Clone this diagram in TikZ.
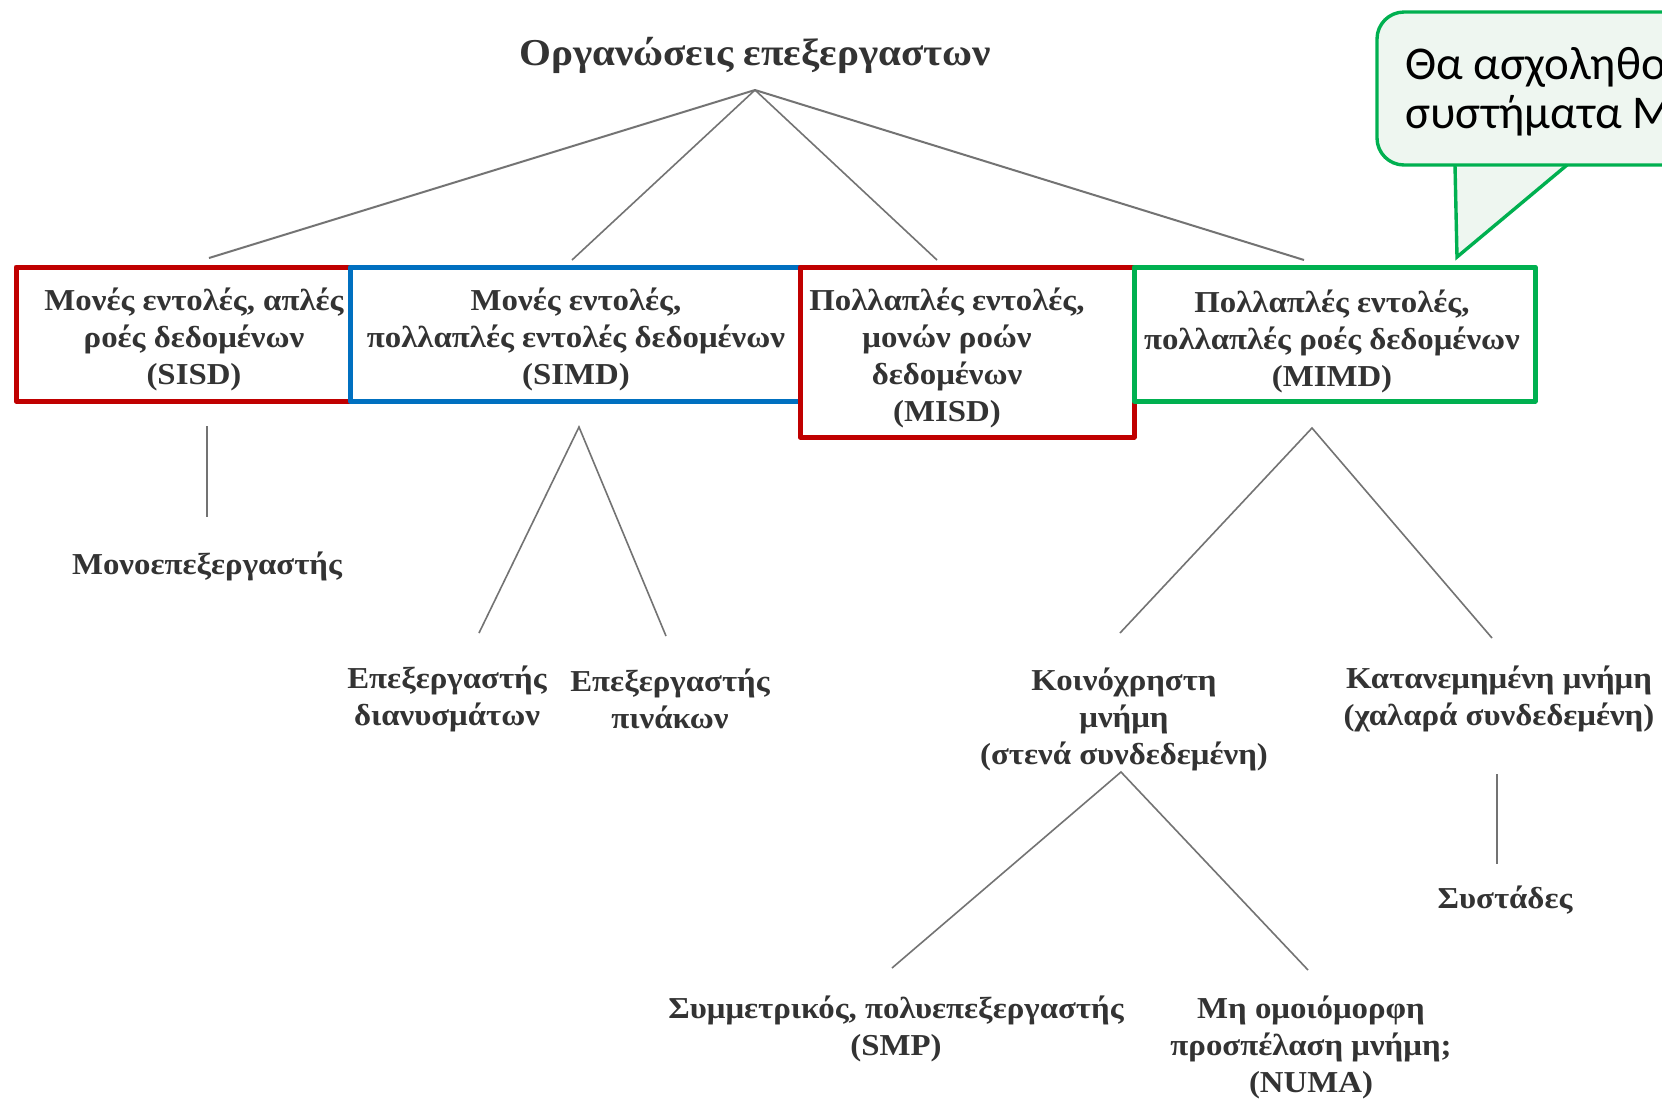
\documentclass[tikz,border=0pt]{standalone}
\usepackage{fontspec}
\setmainfont[FakeStretch=1.08]{Liberation Serif}
\newfontfamily\calloutfont{Carlito}
\definecolor{boxred}{HTML}{C00000}
\definecolor{boxblue}{HTML}{0070C0}
\definecolor{boxgreen}{HTML}{00B050}
\definecolor{calloutfill}{HTML}{EEF6F0}
\begin{document}
\begin{tikzpicture}[x=0.5pt,y=-0.5pt,
  lbl/.style={font=\bfseries\fontsize{15.2}{18.5}\selectfont, text=black!80, align=center, inner sep=0pt},
  titlelbl/.style={font=\bfseries\fontsize{19}{22}\selectfont, text=black!80, inner sep=0pt},
  branch/.style={draw=black!55, line width=0.8pt},
  catbox/.style={draw, line width=2.5pt, line join=round, inner sep=0pt, minimum height=67pt}]
\useasboundingbox (0,0) rectangle (1662,1099);
\clip (0,0) rectangle (1662,1099);
\fill[white] (0,0) rectangle (1662,1099);

% root of the classification
\node[titlelbl] (root) at (755,55) {Οργανώσεις επεξεργαστων};
\coordinate (apex) at (755,90);

% the four Flynn categories
\node[catbox, draw=boxred, minimum width=167pt] (sisdbox) at (183,334) {};
\node[catbox, draw=boxblue, minimum width=225pt] (simdbox) at (575,334) {};
\node[catbox, draw=boxred, minimum width=167pt, minimum height=85pt] (misdbox) at (967,352) {};
\node[catbox, draw=boxgreen, minimum width=200.5pt] (mimdbox) at (1334.5,334) {};

\node[lbl] (sisd) at (194,339) {Μονές εντολές, απλές\\ροές δεδομένων\\(SISD)};
\node[lbl] (simd) at (576,339) {Μονές εντολές,\\πολλαπλές εντολές δεδομένων\\(SIMD)};
\node[lbl] (misd) at (947,358) {Πολλαπλές εντολές,\\μονών ροών\\δεδομένων\\(MISD)};
\node[lbl] (mimd) at (1332,341) {Πολλαπλές εντολές,\\πολλαπλές ροές δεδομένων\\(MIMD)};

\coordinate (sisdtop) at (209,258);
\coordinate (simdtop) at (572,260);
\coordinate (misdtop) at (937,260);
\coordinate (mimdtop) at (1304,260);
\draw[branch, line width=1pt] (apex) -- (sisdtop);
\draw[branch] (apex) -- (simdtop);
\draw[branch] (apex) -- (misdtop);
\draw[branch, line width=1pt] (apex) -- (mimdtop);

% SISD branch
\node[lbl] (uni) at (207,566) {Μονοεπεξεργαστής};
\coordinate (sisdbot) at (207,426);
\coordinate (unitop) at (207,517);
\draw[branch] (sisdbot) -- (unitop);

% SIMD branch
\node[lbl] (vector) at (447,699) {Επεξεργαστής\\διανυσμάτων};
\node[lbl] (array) at (670,699) {Επεξεργαστής\\πινάκων};
\coordinate (simdbot) at (579,427);
\coordinate (vectortop) at (479,633);
\coordinate (arraytop) at (666,636);
\draw[branch] (vectortop) -- (simdbot) -- (arraytop);

% MIMD branch
\node[lbl] (shared) at (1124,719) {Κοινόχρηστη\\μνήμη\\(στενά συνδεδεμένη)};
\node[lbl] (distrib) at (1499,699) {Κατανεμημένη μνήμη\\(χαλαρά συνδεδεμένη)};
\coordinate (mimdbot) at (1312,428);
\coordinate (sharedtop) at (1120,633);
\coordinate (distribtop) at (1492,638);
\draw[branch] (sharedtop) -- (mimdbot) -- (distribtop);

% distributed memory
\node[lbl] (cluster) at (1505,900) {Συστάδες};
\coordinate (distribbot) at (1497,774);
\coordinate (clustertop) at (1497,864);
\draw[branch] (distribbot) -- (clustertop);

% shared memory
\node[lbl] (smp) at (896,1029) {Συμμετρικός, πολυεπεξεργαστής\\(SMP)};
\node[lbl] (numa) at (1311,1047) {Μη ομοιόμορφη\\προσπέλαση μνήμη;\\(NUMA)};
\coordinate (sharedbot) at (1121,772);
\coordinate (smptop) at (892,968);
\coordinate (numatop) at (1308,970);
\draw[branch] (smptop) -- (sharedbot) -- (numatop);

% speech bubble pointing at MIMD
\draw[draw=boxgreen, fill=calloutfill, line width=1.7pt, rounded corners=13.5pt]
  (1377,12) rectangle (1760,165);
\coordinate (tailL) at (1455,165);
\coordinate (tailR) at (1567,165);
\coordinate (tailtip) at (1457,257);
\fill[calloutfill] ([yshift=-1.2pt]tailL) -- (tailtip) -- ([yshift=-1.2pt]tailR) -- cycle;
\draw[draw=boxgreen, line width=1.7pt, line join=miter] (tailL) -- (tailtip) -- (tailR);
\node[font=\calloutfont\fontsize{23.5}{24.5}\selectfont, align=left, anchor=base west, inner sep=0pt]
  (note) at (1405,128) {Θα ασχοληθούμε με\\συστήματα MIMD};
\end{tikzpicture}
\end{document}
